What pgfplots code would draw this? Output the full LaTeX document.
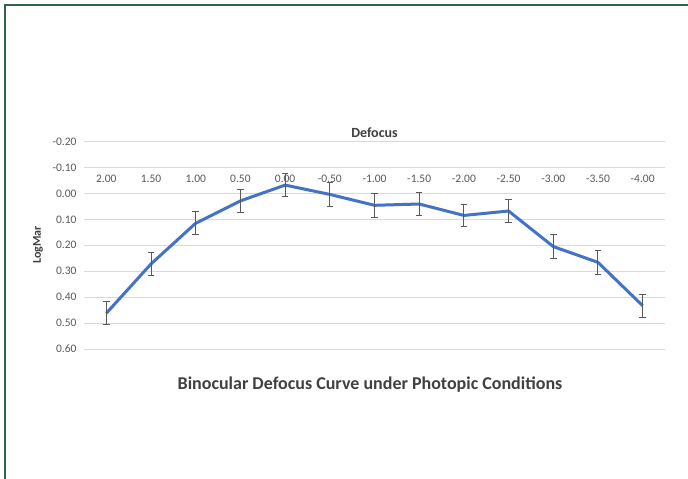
\documentclass[border=0pt]{standalone}
\usepackage{pgfplots}
\pgfplotsset{compat=1.18}
\usepackage{fontspec}
\setmainfont{Carlito}
\definecolor{linecol}{HTML}{4472C4}
\definecolor{txtgray}{HTML}{595959}
\definecolor{titlegray}{HTML}{404040}
\definecolor{gridgray}{HTML}{D9D9D9}
\definecolor{framegreen}{HTML}{2E6447}

% mean LogMAR and its error at each defocus step (index 0 = +2.00 D)
\pgfplotstableread{
x  y      e
0  0.462  0.045
1  0.272  0.045
2  0.115  0.045
3  0.029  0.045
4  -0.032 0.044
5  0.004  0.045
6  0.046  0.046
7  0.041  0.045
8  0.085  0.044
9  0.068  0.044
10 0.205  0.045
11 0.266  0.045
12 0.433  0.044
}\curvedata

\begin{document}
\begin{tikzpicture}
\useasboundingbox (0,0) rectangle (688pt,479pt);
\fill[white] (0,0) rectangle (688pt,479pt);
\draw[framegreen, line width=1.5pt] (5pt,0) -- (5pt,474pt) -- (688pt,474pt);
\begin{axis}[
  at={(84pt,130pt)}, anchor=south west,
  scale only axis, width=581pt, height=207.5pt,
  xmin=-0.5, xmax=12.5,
  ymin=-0.2, ymax=0.6, y dir=reverse,
  axis line style={draw=none},
  major tick length=0pt,
  xtick=\empty,
  ytick={-0.2,-0.1,0,0.1,0.2,0.3,0.4,0.5,0.6},
  yticklabels={-0.20,-0.10,0.00,0.10,0.20,0.30,0.40,0.50,0.60},
  yticklabel style={font=\fontsize{11.5}{13}\selectfont, text=txtgray, xshift=-4pt},
  ymajorgrids, grid style={gridgray, line width=0.9pt},
  clip=false,
]
\addplot[linecol, line width=3pt, line join=round,
  error bars/.cd, y dir=both, y explicit,
  error bar style={txtgray, line width=1pt},
  error mark options={txtgray, line width=1pt, mark size=3.3pt, rotate=90}]
  table[x=x, y=y, y error=e] {\curvedata};
% category labels sit under the -0.10 gridline
\tikzset{xl/.style={anchor=base, yshift=-15pt, text=txtgray, font=\fontsize{11.5}{13}\selectfont}}
\node[xl] at (axis cs:0,-0.1) {2.00};
\node[xl] at (axis cs:1,-0.1) {1.50};
\node[xl] at (axis cs:2,-0.1) {1.00};
\node[xl] at (axis cs:3,-0.1) {0.50};
\node[xl] at (axis cs:4,-0.1) {0.00};
\node[xl] at (axis cs:5,-0.1) {-0.50};
\node[xl] at (axis cs:6,-0.1) {-1.00};
\node[xl] at (axis cs:7,-0.1) {-1.50};
\node[xl] at (axis cs:8,-0.1) {-2.00};
\node[xl] at (axis cs:9,-0.1) {-2.50};
\node[xl] at (axis cs:10,-0.1) {-3.00};
\node[xl] at (axis cs:11,-0.1) {-3.50};
\node[xl] at (axis cs:12,-0.1) {-4.00};
\node[anchor=base, yshift=4pt, text=titlegray, font=\bfseries\fontsize{14}{16}\selectfont]
  at (rel axis cs:0.5,1) {Defocus};
\end{axis}
\node[rotate=90, text=titlegray, font=\bfseries\fontsize{12}{14}\selectfont] at (38pt,234pt) {LogMar};
\node[anchor=base, text=titlegray, font=\bfseries\fontsize{18}{21}\selectfont] at (370pt,89pt)
  {Binocular Defocus Curve under Photopic Conditions};
\end{tikzpicture}
\end{document}
